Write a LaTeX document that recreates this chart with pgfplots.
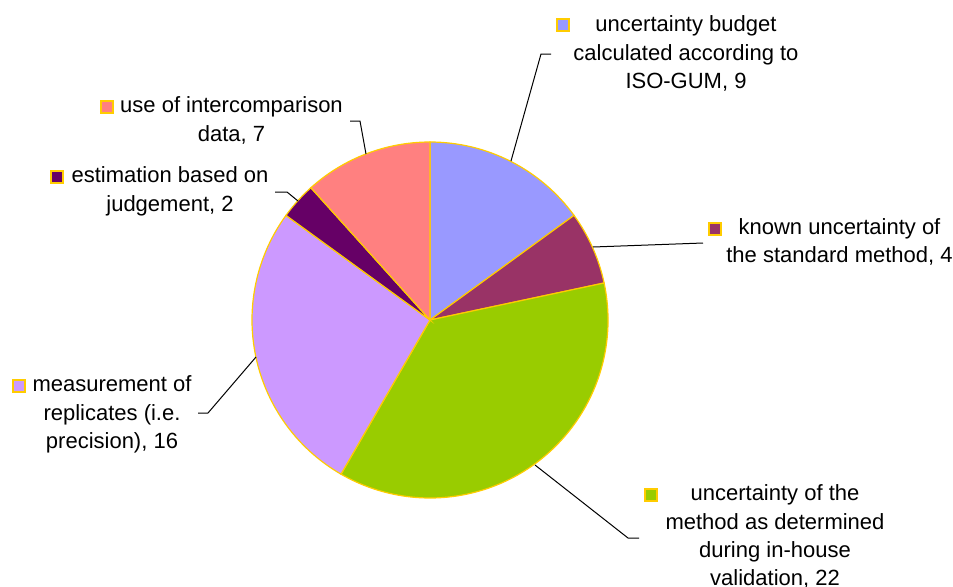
\documentclass[border=0pt]{standalone}
\usepackage{fontspec}
\setmainfont{Liberation Sans}
\usepackage{pgfplots}
\pgfplotsset{compat=1.18}
\definecolor{cA}{HTML}{9999FF}
\definecolor{cB}{HTML}{993366}
\definecolor{cC}{HTML}{99CC00}
\definecolor{cD}{HTML}{CC99FF}
\definecolor{cE}{HTML}{660066}
\definecolor{cF}{HTML}{FF8080}
\definecolor{bord}{HTML}{FFCC00}
\begin{document}
\begin{tikzpicture}[lbl/.style={anchor=base, inner sep=0pt, font=\fontsize{11}{13}\selectfont}]
\begin{axis}[name=ax, x=0.5pt, y=0.5pt, xmin=0, xmax=953, ymin=-586, ymax=0,
  axis lines=none, clip=false,
  key/.style={only marks, mark=square*, mark size=3pt, mark options={fill=#1, draw=bord, line width=1pt}},
  lead/.style={black, line width=0.5pt, no marks}]
% pie slices: values 9, 4, 22, 16, 2, 7 (total 60), clockwise from top
\filldraw[fill=cA, draw=bord, line width=0.6pt] (axis cs:430,-320) -- ++(90:89pt) arc[start angle=90, end angle={90-360*(9/60)}, radius=89pt] -- cycle;
\filldraw[fill=cB, draw=bord, line width=0.6pt] (axis cs:430,-320) -- ++({90-360*(9/60)}:89pt) arc[start angle={90-360*(9/60)}, end angle={90-360*(13/60)}, radius=89pt] -- cycle;
\filldraw[fill=cC, draw=bord, line width=0.6pt] (axis cs:430,-320) -- ++({90-360*(13/60)}:89pt) arc[start angle={90-360*(13/60)}, end angle={90-360*(35/60)}, radius=89pt] -- cycle;
\filldraw[fill=cD, draw=bord, line width=0.6pt] (axis cs:430,-320) -- ++({90-360*(35/60)}:89pt) arc[start angle={90-360*(35/60)}, end angle={90-360*(51/60)}, radius=89pt] -- cycle;
\filldraw[fill=cE, draw=bord, line width=0.6pt] (axis cs:430,-320) -- ++({90-360*(51/60)}:89pt) arc[start angle={90-360*(51/60)}, end angle={90-360*(53/60)}, radius=89pt] -- cycle;
\filldraw[fill=cF, draw=bord, line width=0.6pt] (axis cs:430,-320) -- ++({90-360*(53/60)}:89pt) arc[start angle={90-360*(53/60)}, end angle={90-360*(60/60)}, radius=89pt] -- cycle;
% leader lines
\addplot[lead] coordinates {(511,-161) (541,-54) (551,-54)};
\addplot[lead] coordinates {(593,-247) (703,-243)};
\addplot[lead] coordinates {(535,-465) (628,-538) (639,-538)};
\addplot[lead] coordinates {(256,-357) (208,-413) (198,-413)};
\addplot[lead] coordinates {(298,-201) (287,-192) (275,-192)};
\addplot[lead] coordinates {(366,-154) (360,-121) (350,-121)};
% keys
\addplot[key=cA] coordinates {(562.5,-25)};
\addplot[key=cB] coordinates {(715,-228.5)};
\addplot[key=cC] coordinates {(650.5,-495)};
\addplot[key=cD] coordinates {(18.5,-385.5)};
\addplot[key=cE] coordinates {(56.5,-176.5)};
\addplot[key=cF] coordinates {(106.5,-106.5)};
% labels
\node[lbl] at (axis cs:686,-31.7) {uncertainty budget};
\node[lbl] at (axis cs:686,-60.2) {calculated according to};
\node[lbl] at (axis cs:686,-88.5) {ISO-GUM, 9};
\node[lbl] at (axis cs:839.5,-234.4) {known uncertainty of};
\node[lbl] at (axis cs:839.5,-262.8) {the standard method, 4};
\node[lbl] at (axis cs:775,-500.7) {uncertainty of the};
\node[lbl] at (axis cs:775,-529) {method as determined};
\node[lbl] at (axis cs:775,-557.3) {during in-house};
\node[lbl] at (axis cs:775,-585.5) {validation, 22};
\node[lbl] at (axis cs:112,-391.7) {measurement of};
\node[lbl] at (axis cs:112,-420) {replicates (i.e.};
\node[lbl] at (axis cs:112,-448.3) {precision), 16};
\node[lbl] at (axis cs:170,-182.7) {estimation based on};
\node[lbl] at (axis cs:170,-211.5) {judgement, 2};
\node[lbl] at (axis cs:231.5,-112.3) {use of intercomparison};
\node[lbl] at (axis cs:231.5,-141.7) {data, 7};
\end{axis}
\pgfresetboundingbox
\path[use as bounding box] (ax.south west) rectangle (ax.north east);
\end{tikzpicture}
\end{document}
